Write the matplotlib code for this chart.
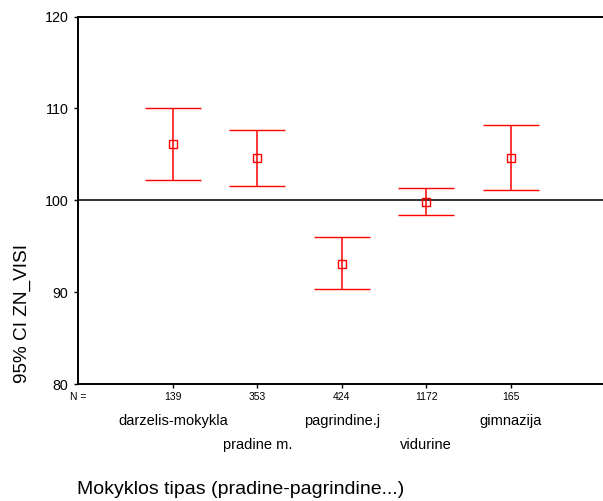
import matplotlib
matplotlib.use("Agg")
import matplotlib.pyplot as plt
import matplotlib.transforms as mtransforms
import numpy as np

plt.rcParams['font.family'] = ['Liberation Sans', 'DejaVu Sans']

categories = ["darzelis-mokykla", "pradine m.", "pagrindine.j", "vidurine", "gimnazija"]
counts = [139, 353, 424, 1172, 165]
means = [106.1, 104.6, 93.1, 99.8, 104.6]
ci_upper = [110.0, 107.6, 96.0, 101.3, 108.2]
ci_lower = [102.2, 101.6, 90.3, 98.4, 101.1]
y_ticks = [80, 90, 100, 110, 120]
ref_value = 100

W, H = 603, 501
fig = plt.figure(figsize=(W / 100, H / 100), dpi=100)
ax = fig.add_axes([78 / W, 1 - 384 / H, (W - 78) / W, (384 - 16.5) / H])

x = np.arange(1, len(categories) + 1)
means_a = np.array(means)
yerr = np.vstack([means_a - np.array(ci_lower), np.array(ci_upper) - means_a])

ax.axhline(ref_value, color='#222222', lw=1.3, zorder=1)
ax.errorbar(x, means_a, yerr=yerr, fmt='s', color='#ff0000', ecolor='#ff0000',
            elinewidth=1.1, capsize=20, capthick=1.1, markersize=5.5,
            markerfacecolor='none', markeredgewidth=1.0, zorder=3)

ax.set_xlim(-0.126, 6.094)
ax.set_ylim(80, 120)
ax.set_yticks(y_ticks)
ax.set_yticklabels([str(v) for v in y_ticks], fontsize=10.3)
ax.set_xticks(x)
ax.set_xticklabels([])
ax.tick_params(axis='y', direction='out', length=3, width=1, pad=4)
ax.tick_params(axis='x', direction='out', length=3, width=1)

for s in ['left', 'bottom', 'top']:
    ax.spines[s].set_linewidth(1.4)
    ax.spines[s].set_color('black')
ax.spines['right'].set_visible(False)

trans = mtransforms.blended_transform_factory(ax.transData, fig.transFigure)
# N counts row
fig.text(78 / W, 1 - 397 / H, "N =", fontsize=7.5, ha='center', va='center')
for xi, n in zip(x, counts):
    ax.text(xi, 1 - 397 / H, str(n), transform=trans, fontsize=7.5,
            ha='center', va='center')
# category labels alternating rows
for i, (xi, lab) in enumerate(zip(x, categories)):
    yrow = 421 if i % 2 == 0 else 445
    ax.text(xi, 1 - yrow / H, lab, transform=trans, fontsize=10.5,
            ha='center', va='center')

fig.text(77 / W, 1 - 490 / H, "Mokyklos tipas (pradine-pagrindine...)",
         fontsize=14, ha='left', va='center')
fig.text(22 / W, 1 - 383 / H, "95% CI ZN_VISI", fontsize=13.7,
         rotation=90, ha='center', va='bottom')

fig.savefig("out.png", dpi=100)
